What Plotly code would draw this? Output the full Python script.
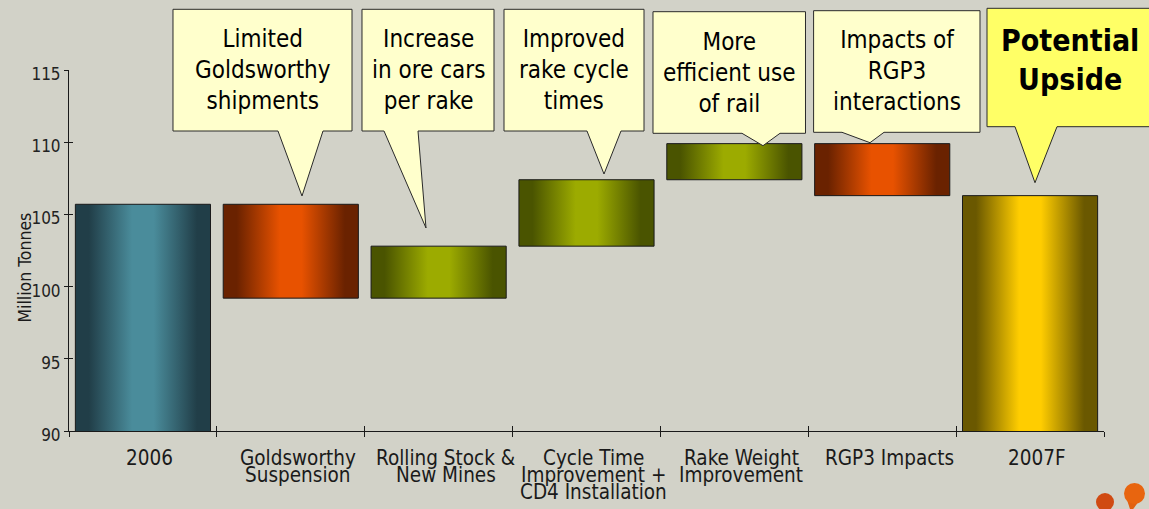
import plotly.graph_objects as go

# ---- data -------------------------------------------------------------
categories = [
    "2006",
    "Goldsworthy\nSuspension",
    "Rolling Stock &\nNew Mines",
    "Cycle Time\nImprovement +\nCD4 Installation",
    "Rake Weight\nImprovement",
    "RGP3 Impacts",
    "2007F",
]
measures = ["absolute", "relative", "relative", "relative", "relative", "relative", "total"]
values = [105.7, -6.5, 3.6, 4.6, 2.5, -3.6, 106.3]  # million tonnes

y_ticks = [90, 95, 100, 105, 110, 115]

callout_texts = [
    "Limited<br>Goldsworthy<br>shipments",
    "Increase<br>in ore cars<br>per rake",
    "Improved<br>rake cycle<br>times",
    "More<br>efficient use<br>of rail",
    "Impacts of<br>RGP3<br>interactions",
    "<b>Potential<br>Upside</b>",
]

# ---- styling ----------------------------------------------------------
FONT = "DejaVu Sans Condensed, Liberation Sans Narrow, Arial Narrow, sans-serif"
BG = "#d2d2c8"
INK = "#1a1a1a"
GRADIENTS = {
    "start": ("#213e48", "#4a8c9b"),
    "down": ("#6a2200", "#e85200"),
    "up": ("#4a5400", "#9cab00"),
    "end": ("#6a5800", "#ffcd00"),
}
BAR_WIDTH = 0.914

W, H = 1149, 509
L, R, T, B = 69, 1104, 70, 431  # plot-area edges in pixels


def px(x):
    return (x - L) / (R - L)


def py(y):
    return (B - y) / (B - T)


fig = go.Figure()

# ---- waterfall bars, each filled with a horizontal sheen --------------
running = 0.0
for i, (cat, m, v) in enumerate(zip(categories, measures, values)):
    if m == "absolute":
        lo, hi, kind = 0.0, v, "start"
        running = v
    elif m == "total":
        lo, hi, kind = 0.0, v, "end"
        running = v
    else:
        lo, hi = sorted((running, running + v))
        kind = "up" if v > 0 else "down"
        running += v
    dark, bright = GRADIENTS[kind]
    x0, x1 = i - BAR_WIDTH / 2, i + BAR_WIDTH / 2
    fig.add_trace(go.Scatter(
        x=[x0, x1, x1, x0, x0],
        y=[lo, lo, hi, hi, lo],
        mode="lines",
        fill="toself",
        fillgradient=dict(
            type="horizontal",
            colorscale=[[0, dark], [0.1, dark], [0.42, bright],
                        [0.58, bright], [0.9, dark], [1, dark]],
        ),
        line=dict(color=INK, width=1),
        hoverinfo="skip",
        showlegend=False,
    ))

# empty trace on the overlay axes so their inward ticks get drawn
fig.add_trace(go.Scatter(x=[None], y=[None], xaxis="x2", yaxis="y2",
                         mode="markers", showlegend=False, hoverinfo="skip"))

# ---- axes -------------------------------------------------------------
n = len(categories)
bounds = [k - 0.5 for k in range(n + 1)]
fig.update_layout(
    width=W, height=H,
    margin=dict(l=L, r=W - R, t=T, b=H - B),
    paper_bgcolor=BG, plot_bgcolor=BG,
    font=dict(family=FONT, color=INK),
    showlegend=False,
    xaxis=dict(
        range=[-0.5, n - 0.5], tickmode="array", tickvals=bounds,
        showticklabels=False, ticks="outside", ticklen=5, tickcolor=INK,
        showline=True, linecolor=INK, linewidth=1, showgrid=False, zeroline=False,
    ),
    xaxis2=dict(
        range=[-0.5, n - 0.5], overlaying="x", anchor="y2", tickmode="array",
        tickvals=bounds, showticklabels=False, ticks="inside", ticklen=5,
        tickcolor=INK, showline=False, showgrid=False, zeroline=False,
    ),
    yaxis=dict(
        range=[y_ticks[0], y_ticks[-1]], tickmode="array", tickvals=y_ticks,
        ticks="outside", ticklen=4, tickcolor=INK, showline=True, linecolor=INK,
        linewidth=1, showgrid=False, zeroline=False,
        tickfont=dict(size=17, color="#222222"), ticklabelshift=4,
        ticklabelstandoff=0,
    ),
    yaxis2=dict(
        range=[y_ticks[0], y_ticks[-1]], overlaying="y", anchor="x2",
        tickmode="array", tickvals=y_ticks, showticklabels=False,
        ticks="inside", ticklen=4, tickcolor=INK, showline=False,
        showgrid=False, zeroline=False,
    ),
)

# ---- category labels (tight multi-line) -------------------------------
for i, cat in enumerate(categories):
    for k, line in enumerate(cat.split("\n")):
        fig.add_annotation(
            x=i, xref="x", xshift=7, y=py(458 + 17 * k), yref="paper",
            text=line, showarrow=False, xanchor="center", yanchor="middle",
            font=dict(size=20.5, family=FONT, color=INK),
        )

# ---- y title ----------------------------------------------------------
fig.add_annotation(
    x=px(24.5), y=py(268), xref="paper", yref="paper", text="Million Tonnes",
    textangle=-90, showarrow=False, xanchor="center", yanchor="middle",
    font=dict(size=17.5, family=FONT, color=INK),
)

# ---- callout bubbles: box (left, top, right, bottom), pointer base and tip
bubbles = [
    (173, 9.3, 352, 131, 278, 323, 302, 196),
    (362, 9.3, 494, 131, 384, 418, 426, 228),
    (504, 9.3, 644, 131, 587, 621, 604, 174),
    (653, 11.7, 805.5, 133.3, 742, 780, 763, 145.7),
    (813.6, 10.7, 980, 132.3, 842, 884, 870, 142.7),
    (987, 8.3, 1153, 126.7, 1015, 1057, 1035, 182.7),
]
for j, (bl, bt, br, bb, b1, b2, tx, ty) in enumerate(bubbles):
    pts = [(bl, bt), (br, bt), (br, bb), (b2, bb), (tx, ty), (b1, bb), (bl, bb)]
    path = "M " + " L ".join(f"{px(a):.5f},{py(b):.5f}" for a, b in pts) + " Z"
    upside = j == len(bubbles) - 1
    fig.add_shape(
        type="path", path=path, xref="paper", yref="paper",
        fillcolor="#ffff66" if upside else "#ffffcc",
        line=dict(color="#2a2a2a", width=1), layer="above",
    )
    if upside:
        cx, cy, size = 1070, 60, 30
    else:
        cx, cy, size = (bl + br) / 2, (bt + bb) / 2, 24
    fig.add_annotation(
        x=px(cx), y=py(cy), xref="paper", yref="paper", text=callout_texts[j],
        showarrow=False, xanchor="center", yanchor="middle",
        font=dict(size=size, family=FONT, color="#000000"),
    )

# ---- corner emblem ----------------------------------------------------
fig.add_shape(type="circle", xref="paper", yref="paper",
              x0=px(1096), x1=px(1114), y0=py(511), y1=py(493),
              fillcolor="#d04a12", line=dict(width=0))
fig.add_shape(type="path", xref="paper", yref="paper",
              path=(f"M {px(1126):.5f},{py(497):.5f} L {px(1131):.5f},{py(512):.5f} "
                    f"L {px(1142):.5f},{py(497):.5f} Z"),
              fillcolor="#e2600f", line=dict(width=0))
fig.add_shape(type="circle", xref="paper", yref="paper",
              x0=px(1124), x1=px(1145), y0=py(504), y1=py(483),
              fillcolor="#e8650f", line=dict(width=0))

fig.write_html("out.html")
